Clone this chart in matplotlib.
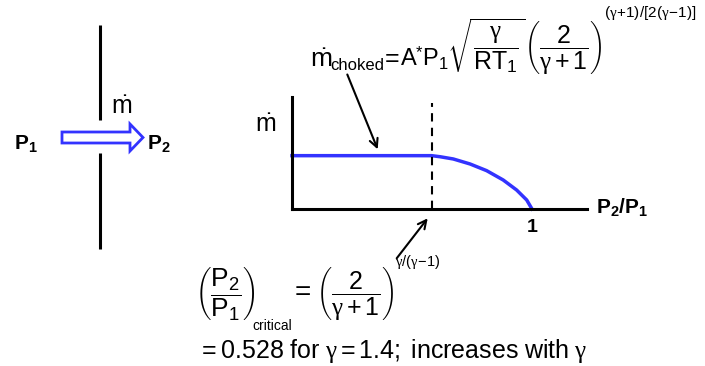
import matplotlib
matplotlib.use('Agg')
import matplotlib.pyplot as plt
from matplotlib.patches import FancyArrow

plt.rcParams['mathtext.fontset'] = 'custom'
plt.rcParams['mathtext.rm'] = 'Liberation Sans'
plt.rcParams['mathtext.it'] = 'Liberation Serif'
plt.rcParams['mathtext.bf'] = 'Liberation Sans:bold'
plt.rcParams['font.family'] = ['Liberation Sans', 'DejaVu Sans']

# ---- data (normalised: P2/P1 = 1 at the end of the curve, choked flow = 1) ----
pressure_ratio = [0.0, 0.582, 0.617, 0.672, 0.742, 0.811, 0.880, 0.936, 0.978, 1.0]
mass_flow = [1.0, 1.0, 0.98, 0.938, 0.844, 0.719, 0.544, 0.356, 0.169, 0.0]
critical_ratio = 0.582
x_ticks = [1]
x_tick_labels = ['1']

BLUE = '#3333ff'
W, H = 705, 366
fig = plt.figure(figsize=(W / 100, H / 100), dpi=100)

bg = fig.add_axes([0, 0, 1, 1])
bg.set_xlim(0, W)
bg.set_ylim(H, 0)
bg.axis('off')

# ---- left sketch: wall with an opening and flow arrow ----
bg.plot([100, 100], [25, 120], color='black', lw=2.2, solid_capstyle='butt')
bg.plot([100, 100], [153, 249], color='black', lw=2.2, solid_capstyle='butt')
bg.add_patch(FancyArrow(62, 137.5, 81, 0, width=11, head_width=27, head_length=13,
                        length_includes_head=True, facecolor='white',
                        edgecolor=BLUE, lw=2))
bg.text(14, 143, r'$\mathbf{P}_{\mathbf{1}}$', fontsize=15, ha='left', va='center')
bg.text(147, 143, r'$\mathbf{P}_{\mathbf{2}}$', fontsize=15, ha='left', va='center')
bg.text(122, 107, r'$\dot{\mathrm{m}}$', fontsize=18, ha='center', va='center')

# ---- chart ----
ax = fig.add_axes([292 / W, 1 - 209 / H, (586.7 - 292) / W, (209 - 97) / H])
ax.set_facecolor('none')
ax.set_xlim(0, 1.228)
ax.set_ylim(0, 2.10)
ax.plot(pressure_ratio, mass_flow, color=BLUE, lw=2.5, clip_on=False)
ax.axvline(critical_ratio, ymin=0, ymax=(209 - 103) / 112, color='black', lw=1.5,
           ls=(0, (4, 3)))
for s in ['top', 'right']:
    ax.spines[s].set_visible(False)
for s in ['left', 'bottom']:
    ax.spines[s].set_linewidth(2.2)
    ax.spines[s].set_color('black')
ax.set_xticks(x_ticks)
ax.set_xticklabels(x_tick_labels, fontweight='bold', fontsize=14)
ax.tick_params(axis='x', length=0, pad=7)
ax.set_yticks([])

bg.text(266, 125, r'$\dot{\mathrm{m}}$', fontsize=18, ha='center', va='center')
bg.text(596, 207, r'$\mathbf{P}_{\mathbf{2}}\mathbf{/P}_{\mathbf{1}}$', fontsize=15,
        ha='left', va='center')

# ---- annotation arrows ----
bg.annotate('', xy=(377.7, 149.3), xytext=(347.3, 74.5),
            arrowprops=dict(arrowstyle='->', lw=1.5, color='black', mutation_scale=15,
                            shrinkA=0, shrinkB=0))
bg.annotate('', xy=(427.7, 218.3), xytext=(396.7, 258.3),
            arrowprops=dict(arrowstyle='->', lw=1.5, color='black', mutation_scale=15,
                            shrinkA=0, shrinkB=0))

# ---- top formula (pieces laid out like the equation editor original) ----
bg.text(310, 67, r'$\dot{\mathrm{m}}$', fontsize=19, ha='left', va='baseline')
bg.text(330, 70, 'choked', fontsize=12, ha='left', va='baseline')
bg.text(385, 66, '=', fontsize=18, ha='left', va='baseline')
bg.text(400, 67, r'$\mathrm{A}^{*}\mathrm{P}_{1}$', fontsize=17, ha='left', va='baseline')
bg.text(447, 46, r'$\sqrt{\dfrac{\gamma}{\mathrm{RT}_{1}}}$', fontsize=18,
        ha='left', va='center')
bg.text(524, 47, r'$\left(\dfrac{2}{\gamma+1}\right)$', fontsize=18,
        ha='left', va='center')
bg.text(604, 13, r'$(\gamma\!+\!1)/[2(\gamma\!-\!1)]$', fontsize=11, ha='left',
        va='center')

# ---- critical pressure ratio formula ----
bg.text(195, 294, r'$\left(\dfrac{\mathrm{P}_{2}}{\mathrm{P}_{1}}\right)$', fontsize=19,
        ha='left', va='center')
bg.text(252, 330, 'critical', fontsize=10, ha='left', va='baseline')
bg.text(295, 293, '=', fontsize=20, ha='left', va='center')
bg.text(316, 294, r'$\left(\dfrac{2}{\gamma+1}\right)$', fontsize=18,
        ha='left', va='center')
bg.text(395, 262, r'$\gamma/(\gamma\!-\!1)$', fontsize=10.5, ha='left', va='center')

bg.text(198, 351, r'$= 0.528\ \mathrm{for}\ \gamma = 1.4;\ \mathrm{increases\ with}\ \gamma$',
        fontsize=18, ha='left', va='center')

fig.savefig('out.png', dpi=100)
